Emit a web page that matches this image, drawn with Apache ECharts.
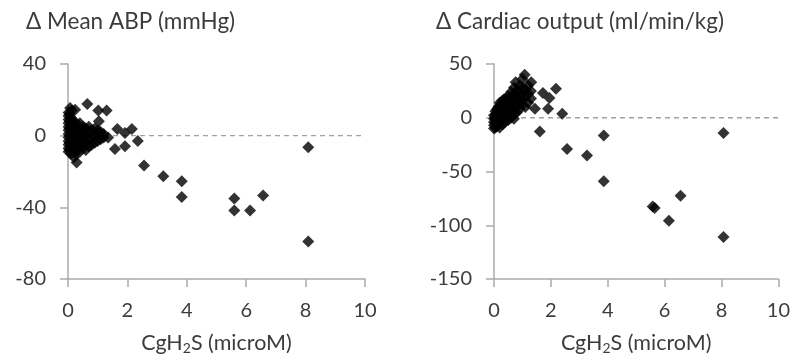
<!DOCTYPE html>
<html>
<head>
<meta charset="utf-8">
<script src="https://cdn.jsdelivr.net/npm/echarts@6/dist/echarts.min.js"></script>
<style>
html,body{margin:0;padding:0;background:#fff;}
#c{width:793px;height:363px;}
</style>
</head>
<body>
<div id="c"></div>
<script>
// Left panel: Δ Mean ABP (mmHg) vs CgH2S (microM)
var abpPoints = [
  // dense cluster near origin
  [0.02,-9],[0.02,-7],[0.02,-5],[0.02,-3],[0.02,-1],[0.02,1],[0.02,3],[0.02,5],[0.02,7],[0.02,9],[0.02,11],[0.02,13],
  [0.05,-8],[0.05,-4],[0.05,0],[0.05,4],[0.05,8],[0.05,12],
  [0.07,15.5],
  [0.1,-10],[0.1,-6],[0.1,-2],[0.1,2],[0.1,6],[0.1,10],[0.12,14],
  [0.15,-7],[0.15,-3],[0.15,1],[0.15,5],[0.15,9],
  [0.2,-12],[0.2,-8],[0.2,-4],[0.2,0],[0.2,4],[0.2,8],
  [0.24,14.5],
  [0.25,-10],[0.25,-6],[0.25,-2],[0.25,2],[0.25,6],
  [0.29,-15],[0.3,-8],[0.3,-4],[0.3,0],[0.3,4],
  [0.35,-6],[0.35,-2],[0.35,2],[0.35,6],
  [0.4,-9],[0.4,-5],[0.4,-1],[0.4,3],[0.4,7],
  [0.5,-7],[0.5,-3],[0.5,1],[0.5,5],
  [0.55,-5],[0.55,-1],[0.55,3],
  [0.6,-8],[0.6,-4],[0.6,0],[0.6,4],
  [0.65,17.7],
  [0.7,-6],[0.7,-2],[0.7,2],[0.7,5],
  [0.8,-5],[0.8,-1],[0.8,3],
  [0.9,-4],[0.9,0],[0.9,4],
  [1.0,-3],[1.0,1],[1.0,3],
  [1.02,14],[1.04,8],[1.1,-2],[1.1,2],[1.2,-1],[1.2,1],[1.3,14],[1.35,-1],
  // scattered points
  [1.58,-7.4],[1.66,3.7],[1.92,1.5],[1.92,-5.9],[2.15,3.7],[2.35,-3],
  [2.56,-16.6],[3.21,-22.7],[3.83,-25.5],[3.83,-34.3],
  [5.6,-35],[5.6,-41.7],[6.13,-41.7],[6.57,-33.4],
  [8.09,-6.5],[8.09,-59]
];

// Right panel: Δ Cardiac output (ml/min/kg) vs CgH2S (microM)
var coPoints = [
  // dense cluster near origin
  [0.0,-10],[0.0,-7],[0.0,-4],[0.0,-1],[0.0,2],
  [0.05,-9],[0.05,-5],[0.05,-1],[0.05,3],[0.05,6],
  [0.1,-8],[0.1,-4],[0.1,0],[0.1,4],[0.1,8],
  [0.15,-6],[0.15,-2],[0.15,2],[0.15,6],[0.15,10],
  [0.2,-9],[0.2,-5],[0.2,-1],[0.2,3],[0.2,7],[0.2,11],[0.2,14],
  [0.25,-3],[0.25,1],[0.25,5],[0.25,9],[0.25,13],
  [0.3,-6],[0.3,-2],[0.3,2],[0.3,6],[0.3,10],[0.3,16],
  [0.35,0],[0.35,4],[0.35,8],[0.35,12],[0.35,17],
  [0.4,-4],[0.4,2],[0.4,6],[0.4,10],[0.4,14],[0.4,18],
  [0.5,-2],[0.5,4],[0.5,8],[0.5,12],[0.5,16],[0.5,20],
  [0.6,0],[0.6,6],[0.6,10],[0.6,14],[0.6,19],[0.6,24],
  [0.7,-1],[0.7,3],[0.7,8],[0.7,12],[0.7,18],[0.7,22],[0.7,28],
  [0.8,5],[0.8,10],[0.8,20],[0.8,25],[0.76,33],
  [0.9,8],[0.9,14],[0.9,18],[0.9,24],[0.9,30],
  [1.0,12],[1.0,16],[1.0,22],[1.0,28],[1.0,36],
  [1.1,10],[1.1,20],[1.1,26],[1.08,40],
  [1.2,14],[1.2,22],[1.2,30],
  [1.3,18],[1.3,25],[1.31,33],
  // scattered points
  [1.44,8.4],[1.61,-12.7],[1.72,23],[1.9,8.4],[1.95,18.3],[2.18,27],[2.4,3.7],
  [2.57,-29],[3.27,-35],[3.86,-16.4],[3.86,-59],
  [5.58,-82.5],[5.65,-84],[6.15,-95.8],[6.56,-72.6],
  [8.07,-14.2],[8.07,-111]
];

var zeroLine = [[0,0],[10,0]];

var xTicks = {min:0, max:10, interval:2};
var abpTicks = {min:-80, max:40, interval:40};
var coTicks = {min:-150, max:50, interval:50};

var titles = ['\u0394 Mean ABP (mmHg)', '\u0394 Cardiac output (ml/min/kg)'];

var FONT = 'Lato';
var TXT = '#3c3c3c';
var AX = '#ababab';

function xAxisCfg(gi){
  return {
    gridIndex: gi, type:'value', min:xTicks.min, max:xTicks.max, interval:xTicks.interval,
    axisLine:{show:true, onZero:false, lineStyle:{color:AX, width:1.5}},
    axisTick:{show:true, inside:false, length:8, lineStyle:{color:AX, width:1.5}},
    splitLine:{show:false},
    axisLabel:{color:TXT, fontFamily:FONT, fontSize:20, margin:22},
    name:'{a|CgH}{s|2}{a|S (microM)}',
    nameLocation:'middle', nameGap:52,
    nameTextStyle:{
      rich:{
        a:{fontFamily:FONT, fontSize:21.5, color:TXT},
        s:{fontFamily:FONT, fontSize:14, color:TXT, padding:[10,0,0,0]}
      }
    }
  };
}
function yAxisCfg(gi, t){
  return {
    gridIndex: gi, type:'value', min:t.min, max:t.max, interval:t.interval,
    axisLine:{show:true, onZero:false, lineStyle:{color:AX, width:1.5}},
    axisTick:{show:true, inside:false, length:8, lineStyle:{color:AX, width:1.5}},
    splitLine:{show:false},
    axisLabel:{color:TXT, fontFamily:FONT, fontSize:20, margin:22}
  };
}
function scatterCfg(i, data){
  return {
    type:'scatter', xAxisIndex:i, yAxisIndex:i, data:data,
    symbol:'diamond', symbolSize:[12,12],
    itemStyle:{color:'#000'}, z:3, silent:true
  };
}
function zeroCfg(i){
  return {
    type:'line', xAxisIndex:i, yAxisIndex:i, data:zeroLine,
    symbol:'none', silent:true, z:1,
    lineStyle:{color:'#a0a0a0', width:1.3, type:[5,4]}
  };
}

var chart = echarts.init(document.getElementById('c'));
chart.setOption({
  animation:false,
  backgroundColor:'#fff',
  title:[
    {text:titles[0], left:21, top:5, textStyle:{fontFamily:FONT, fontSize:22.5, fontWeight:'normal', color:TXT}},
    {text:titles[1], left:431, top:5, textStyle:{fontFamily:FONT, fontSize:22.5, fontWeight:'normal', color:TXT}}
  ],
  grid:[
    {left:68, right:428, top:64, bottom:84},
    {left:494, right:14, top:64, bottom:84}
  ],
  xAxis:[xAxisCfg(0), xAxisCfg(1)],
  yAxis:[yAxisCfg(0, abpTicks), yAxisCfg(1, coTicks)],
  series:[zeroCfg(0), scatterCfg(0, abpPoints), zeroCfg(1), scatterCfg(1, coPoints)]
});
</script>
</body>
</html>
